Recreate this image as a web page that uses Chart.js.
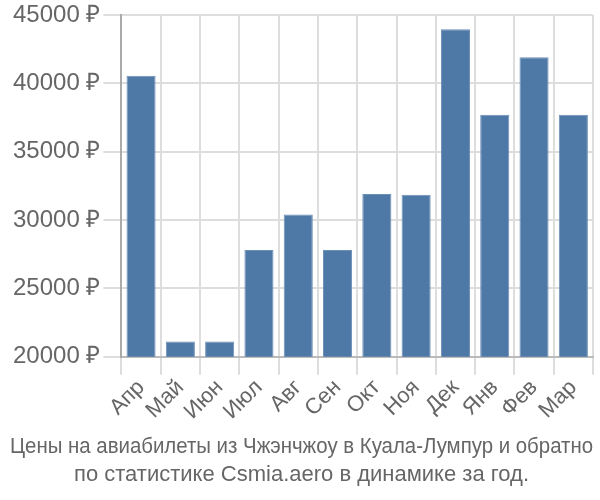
<!DOCTYPE html>
<html>
<head>
<meta charset="utf-8">
<script src="https://cdn.jsdelivr.net/npm/chart.js@4/dist/chart.umd.min.js"></script>
<style>
  html, body { margin: 0; padding: 0; background: #fff; }
  #wrap { width: 600px; height: 500px; }
</style>
</head>
<body>
<div id="wrap"><canvas id="priceChart" width="600" height="500"></canvas></div>
<script>
// months and average ticket prices
const months = ['Апр', 'Май', 'Июн', 'Июл', 'Авг', 'Сен', 'Окт', 'Ноя', 'Дек', 'Янв', 'Фев', 'Мар'];
const prices = [40550, 21100, 21100, 27800, 30400, 27800, 31900, 31850, 43950, 37700, 41900, 37700];
const titleLines = [
  'Цены на авиабилеты из Чжэнчжоу в Куала-Лумпур и обратно',
  'по статистике Csmia.aero в динамике за год.'
];

(() => {
  const ctx = document.getElementById('priceChart').getContext('2d');
  new Chart(ctx, {
    type: 'bar',
    data: {
      labels: months,
      datasets: [{
        data: prices,
        backgroundColor: '#4e78a6',
        borderColor: '#6c8fb8',
        borderWidth: 1,
        barPercentage: 0.74,
        categoryPercentage: 1
      }]
    },
    options: {
      responsive: false,
      animation: false,
      layout: { padding: { top: 0, right: 7, left: 10, bottom: 0 } },
      plugins: {
        legend: { display: false },
        tooltip: { enabled: false },
        title: {
          display: true,
          position: 'bottom',
          text: titleLines,
          color: '#666',
          font: { family: '"Liberation Sans", sans-serif', size: 22, weight: 'normal', lineHeight: 1.23 },
          padding: { top: 9, bottom: 12 }
        }
      },
      scales: {
        x: {
          grid: { color: '#ddd', lineWidth: 2, tickLength: 18, offset: true },
          border: { color: '#bbb', width: 2 },
          ticks: {
            color: '#666',
            font: { family: '"Liberation Sans", sans-serif', size: 22 },
            maxRotation: 45,
            minRotation: 45,
            autoSkip: false,
            padding: 0
          }
        },
        y: {
          min: 20000,
          max: 45000,
          grid: { color: '#ddd', lineWidth: 2, tickLength: 18 },
          border: { color: '#aaa', width: 2 },
          ticks: {
            stepSize: 5000,
            color: '#666',
            padding: 3,
            font: { family: '"Liberation Sans", sans-serif', size: 24, lineHeight: 1.0 },
            callback: v => v + ' ₽'
          }
        }
      }
    }
  });
})();
</script>
</body>
</html>
